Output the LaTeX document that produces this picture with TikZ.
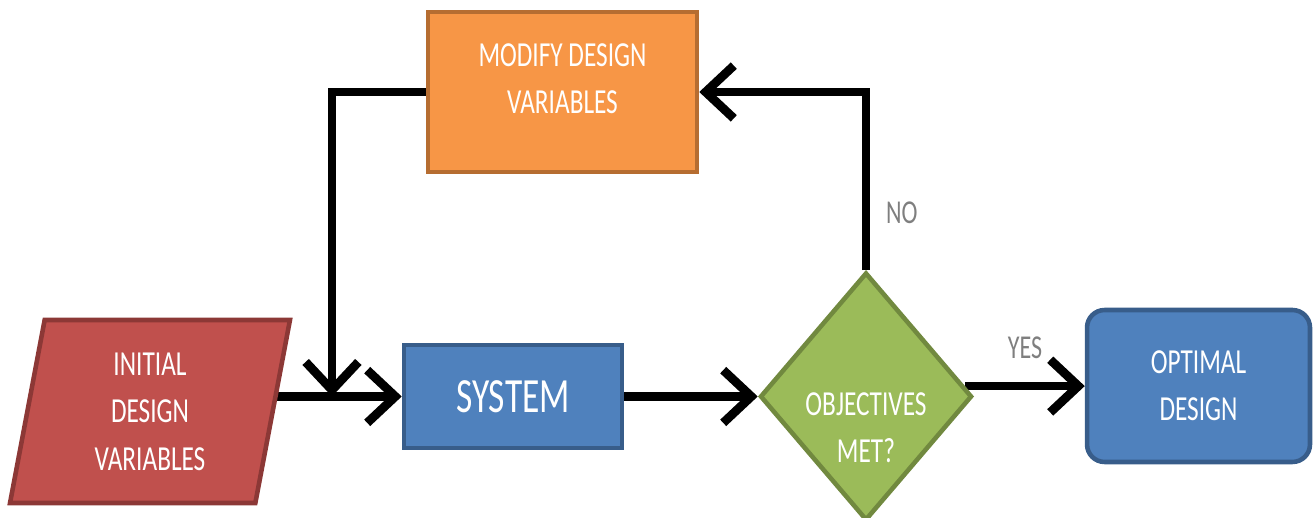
\documentclass[tikz,border=0pt]{standalone}
\usepackage{fontspec}
\setmainfont{Carlito}[FakeStretch=0.72]
\usetikzlibrary{arrows.meta,shapes.geometric,backgrounds}
\definecolor{flowRed}{HTML}{C0504D}
\definecolor{flowRedLine}{HTML}{8C3836}
\definecolor{flowBlue}{HTML}{4F81BD}
\definecolor{flowBlueLine}{HTML}{385D8A}
\definecolor{flowOrange}{HTML}{F79646}
\definecolor{flowOrangeLine}{HTML}{B66D31}
\definecolor{flowGreen}{HTML}{9BBB59}
\definecolor{flowGreenLine}{HTML}{71893F}
\definecolor{flowGrey}{HTML}{7F7F7F}

\begin{document}
\begin{tikzpicture}[
  x=.02cm,y=.02cm,
  boxtext/.style={text=white,align=center,font=\fontsize{20}{27}\selectfont},
  box/.style={draw,line width=2.6pt,inner sep=0pt,boxtext},
  flow/.style={draw=black,line width=5pt,-{Straight Barb[length=16pt,width=30pt]}},
  tag/.style={font=\fontsize{19}{20}\selectfont,text=flowGrey,inner sep=1pt}
]
  \useasboundingbox (0,0) rectangle (1314,517);
  \node[box,trapezium,trapezium left angle=73.6,trapezium right angle=106.4,
    trapezium stretches body,minimum width=5.6cm,minimum height=3.66cm,
    fill=flowRed,draw=flowRedLine] (init) at (150,105.5) {INITIAL\\DESIGN\\VARIABLES};
  \node[box,minimum width=4.36cm,minimum height=2.06cm,fill=flowBlue,draw=flowBlueLine,
    font=\fontsize{28}{30}\selectfont] (sys) at (513,120.5) {SYSTEM};
  \node[box,minimum width=5.38cm,minimum height=3.2cm,fill=flowOrange,draw=flowOrangeLine,
    label={[boxtext,yshift=.26cm]center:{MODIFY DESIGN\\VARIABLES}}] (modify) at (562.5,425) {};
  \node[box,diamond,minimum width=4.24cm,minimum height=4.96cm,fill=flowGreen,draw=flowGreenLine,
    label={[boxtext,yshift=-.62cm]center:{OBJECTIVES\\MET?}}] (obj) at (866,120.5) {};
  \node[box,rounded corners=10pt,minimum width=4.46cm,minimum height=3.04cm,
    fill=flowBlue,draw=flowBlueLine] (opt) at (1198.5,131) {OPTIMAL\\DESIGN};

  \coordinate (merge) at (332,120.5);
  \begin{scope}[on background layer]
    \draw[flow] (init.east |- sys.west) -- (sys.west);
    \draw[flow] (modify.west) -| (merge);
    \draw[flow] (sys.east) -- (obj.west);
    \draw[flow] (obj.north) |- node[tag,pos=.16,right=8pt]{NO} (modify.east);
    \draw[flow] (obj.6) -- (obj.6 -| opt.west) node[tag,midway,above=12pt]{YES};
  \end{scope}
\end{tikzpicture}
\end{document}
